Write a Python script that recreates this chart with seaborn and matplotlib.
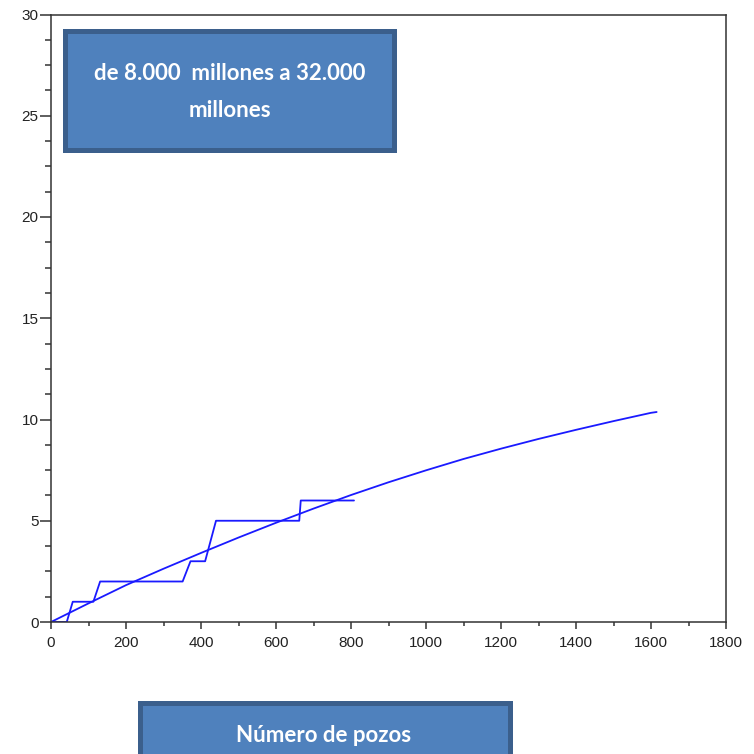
import numpy as np
import pandas as pd
import matplotlib
matplotlib.use("Agg")
import matplotlib.pyplot as plt
from matplotlib.patches import Rectangle
from matplotlib.ticker import MultipleLocator
import seaborn as sns

# curva ajustada
curve_x = [0, 100, 200, 300, 400, 500, 600, 700, 800, 900, 1000,
           1100, 1200, 1300, 1400, 1500, 1600, 1615]
curve_y = [0, 0.92, 1.82, 2.63, 3.41, 4.17, 4.9, 5.6, 6.27, 6.9, 7.49,
           8.05, 8.56, 9.04, 9.49, 9.92, 10.33, 10.37]

# datos escalonados
step_x = [0, 42, 58, 113, 131, 351, 372, 411, 440, 662, 666, 808]
step_y = [0, 0, 1, 1, 2, 2, 3, 3, 5, 5, 6, 6]

x_ticks = [0, 200, 400, 600, 800, 1000, 1200, 1400, 1600, 1800]
y_ticks = [0, 5, 10, 15, 20, 25, 30]

title_text = "de 8.000  millones a 32.000\nmillones"
xlabel_text = "Número de pozos"

sns.set_style("ticks")
plt.rcParams['font.family'] = ['Liberation Sans', 'DejaVu Sans']
box_font = ['Lato', 'Liberation Sans', 'DejaVu Sans']

fig = plt.figure(figsize=(7.54, 7.54), dpi=100)
ax = fig.add_axes([51/754, 132/754, 675/754, 607.5/754])

df_curve = pd.DataFrame({'x': curve_x, 'y': curve_y})
df_step = pd.DataFrame({'x': step_x, 'y': step_y})
sns.lineplot(data=df_curve, x='x', y='y', ax=ax, color='#1a1aff', lw=1.3,
             sort=False, estimator=None)
sns.lineplot(data=df_step, x='x', y='y', ax=ax, color='#1a1aff', lw=1.3,
             sort=False, estimator=None)

ax.set_xlim(0, 1800)
ax.set_ylim(0, 30)
ax.set_xticks(x_ticks)
ax.set_yticks(y_ticks)
ax.xaxis.set_minor_locator(MultipleLocator(100))
ax.yaxis.set_minor_locator(MultipleLocator(1.25))
ax.set_xlabel('')
ax.set_ylabel('')
for s in ax.spines.values():
    s.set_color('#333333')
    s.set_linewidth(1.1)
ax.tick_params(axis='x', which='major', length=5, width=1.1, color='#333333',
               labelsize=11, labelcolor='#222222', pad=5)
ax.tick_params(axis='x', which='minor', length=3, width=1.1, color='#333333')
ax.tick_params(axis='y', which='major', length=8, width=1.1, color='#333333',
               labelsize=11, labelcolor='#222222', pad=1)
ax.tick_params(axis='y', which='minor', length=4.5, width=1.1, color='#333333')

# cuadros de texto
fill = '#4f81bd'
edge = '#3b5f8c'
fig.patches.append(Rectangle((64.5/754, (754-149.5)/754), 330/754, 118/754,
                             transform=fig.transFigure, facecolor=fill,
                             edgecolor=edge, lw=3.6, zorder=5))
fig.text(229.5/754, (754-92)/754, title_text, color='white', fontsize=16,
         fontweight='bold', ha='center', va='center', linespacing=1.9,
         family=box_font, zorder=6)

fig.patches.append(Rectangle((139.5/754, -10/754), 370/754, 61.5/754,
                             transform=fig.transFigure, facecolor=fill,
                             edgecolor=edge, lw=3.6, zorder=5))
fig.text(324/754, (754-735)/754, xlabel_text, color='white', fontsize=16,
         fontweight='bold', ha='center', va='center',
         family=box_font, zorder=6)

fig.savefig('out.png', dpi=100)
